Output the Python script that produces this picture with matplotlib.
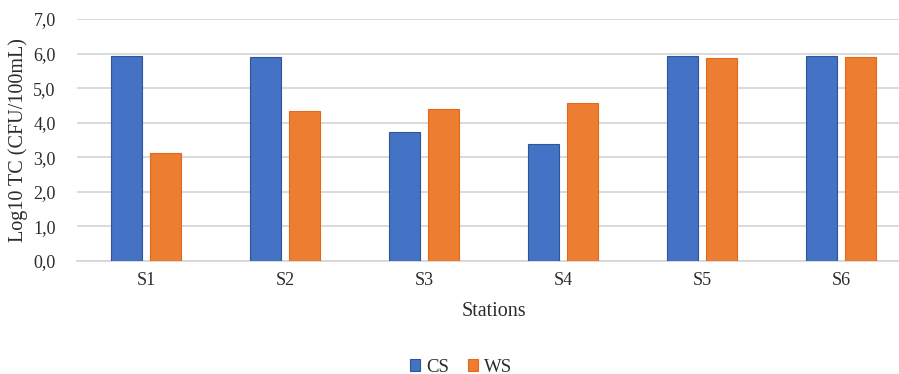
import matplotlib
matplotlib.use("Agg")
import matplotlib.pyplot as plt
import numpy as np

stations = ["S1", "S2", "S3", "S4", "S5", "S6"]
cs_values = [5.93, 5.90, 3.74, 3.39, 5.93, 5.93]
ws_values = [3.13, 4.33, 4.39, 4.56, 5.86, 5.91]
y_ticks = [0.0, 1.0, 2.0, 3.0, 4.0, 5.0, 6.0, 7.0]
y_tick_labels = [f"{v:.1f}".replace(".", ",") for v in y_ticks]

plt.rcParams["font.family"] = ["Liberation Serif", "DejaVu Serif"]

fig = plt.figure(figsize=(8.99, 3.74), dpi=100)
ax = fig.add_axes([0.0851, 0.303, 0.9277, 0.646])

x = np.arange(len(stations))
offset = 0.142
width = 0.222
ax.bar(x - offset, cs_values, width, color="#4472C4", edgecolor="#2F5597",
       linewidth=0.8, label="CS", zorder=3)
ax.bar(x + offset, ws_values, width, color="#ED7D31", edgecolor="#E06A1B",
       linewidth=0.8, label="WS", zorder=3)

ax.set_xlim(-0.5, len(stations) - 0.5)
ax.set_ylim(0, 7)
ax.set_yticks(y_ticks)
ax.set_yticklabels(y_tick_labels, fontsize=13, color="#2b2b2b")
ax.set_xticks(x)
ax.set_xticklabels(stations, fontsize=13, color="#2b2b2b")
ax.tick_params(axis="both", length=0)
ax.tick_params(axis="x", pad=8)
ax.tick_params(axis="y", pad=15)
ax.grid(axis="y", color="#d4d4d4", linewidth=1.2, zorder=0)
for side in ["top", "right", "left"]:
    ax.spines[side].set_visible(False)
ax.spines["bottom"].set_color("#d4d4d4")
ax.spines["bottom"].set_linewidth(1.2)

ax.set_ylabel("Log10 TC (CFU/100mL)", fontsize=14.5, color="#2b2b2b", labelpad=4)
fig.text(494 / 899, 1 - 311 / 374, "Stations", fontsize=14.5, color="#2b2b2b",
         ha="center", va="center")

fig.legend(loc="center", bbox_to_anchor=(461 / 899, 7 / 374), ncol=2,
           frameon=False, fontsize=13.5, handlelength=0.55, handleheight=0.6,
           handletextpad=0.3, columnspacing=1.0, labelcolor="#2b2b2b",
           borderpad=0.1)

fig.savefig("out.png", dpi=100)
